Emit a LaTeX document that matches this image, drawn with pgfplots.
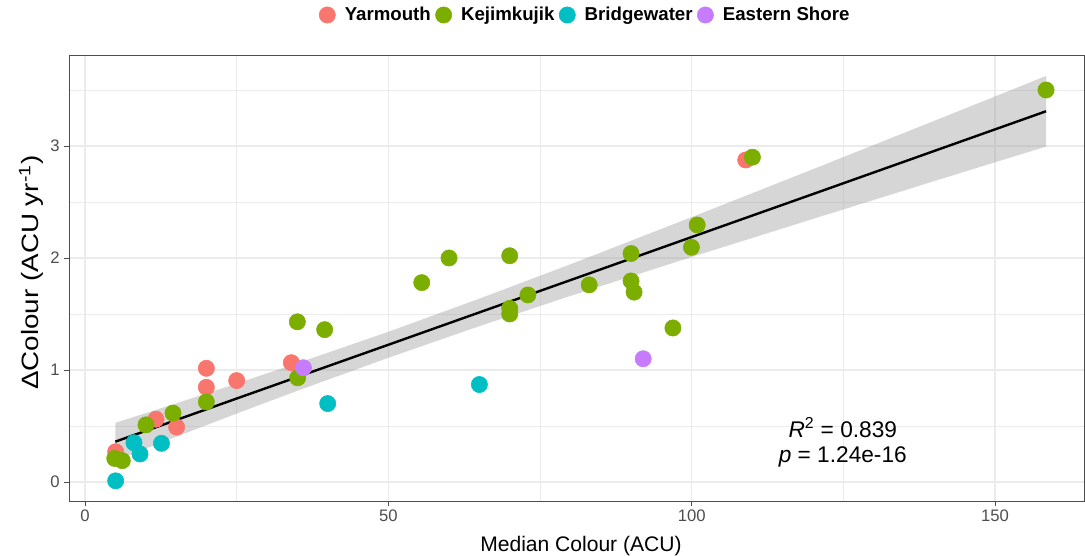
\documentclass[border=0pt]{standalone}
\usepackage{fontspec}
\setmainfont{Liberation Sans}
\usepackage{graphicx}
\usepackage{pgfplots}
\pgfplotsset{compat=1.18}
\definecolor{yar}{HTML}{F8766D}
\definecolor{kej}{HTML}{7CAE00}
\definecolor{bri}{HTML}{00BFC4}
\definecolor{eas}{HTML}{C77CFF}
\definecolor{gridc}{HTML}{EBEBEB}
\definecolor{tickc}{HTML}{4D4D4D}
\definecolor{borderc}{HTML}{4D4D4D}
\definecolor{bandc}{HTML}{999999}
\begin{document}
\begin{tikzpicture}
\begin{axis}[
  name=ax,
  scale only axis,
  width=761.25pt, height=334.5pt,
  xmin=-2.64, xmax=164.66, ymin=-0.17, ymax=3.8125,
  xtick={0,50,100,150}, ytick={0,1,2,3},
  minor xtick={25,75,125}, minor ytick={0.5,1.5,2.5,3.5},
  grid=both,
  major grid style={color=gridc, line width=1.1pt},
  minor grid style={color=gridc, line width=0.6pt},
  axis line style={color=borderc, line width=0.65pt},
  tick align=outside, tick pos=left,
  major tick length=3.4pt, minor tick length=0pt,
  tick style={color=borderc, line width=0.65pt},
  /pgf/number format/assume math mode=true,
  ticklabel style={font=\fontsize{12.5}{14}\selectfont, text=tickc},
  xlabel={Median Colour (ACU)},
  ylabel={\scalebox{1.32}[1.12]{ΔColour (ACU yr\textsuperscript{-1})}},
  label style={font=\fontsize{15.8}{18}\selectfont},
  xlabel style={at={(axis description cs:0.5044,-0.1009)}, anchor=center},
  ylabel style={at={(axis description cs:-0.0374,0.512)}, anchor=center},
  legend columns=4,
  legend cell align=left,
  legend style={at={(axis description cs:0.509,1.0897)}, anchor=center,
    draw=none, fill=none, font=\bfseries\fontsize{14}{16}\selectfont,
    /tikz/every even column/.append style={column sep=1.5pt},
    /tikz/every odd column/.append style={column sep=5pt}},
]
\addplot[only marks, mark=*, mark size=6.1pt, color=yar, mark options={draw=yar, fill=yar}] coordinates {
(5.05,0.27) (11.7,0.56) (15.1,0.49) (20.0,1.015) (20.0,0.845) (25.0,0.905) (34.0,1.065) (108.9,2.875)
};
\addlegendentry{Yarmouth}
\addplot[only marks, mark=*, mark size=6.1pt, color=kej, mark options={draw=kej, fill=kej}] coordinates {
(4.9,0.21) (6.15,0.19) (10.05,0.51) (14.5,0.615) (20.0,0.715) (35.0,1.43) (35.05,0.93) (39.5,1.36)
(55.5,1.78) (60.0,2.0) (70.0,2.02) (70.0,1.55) (70.0,1.50) (73.0,1.67) (83.1,1.76) (90.0,2.04)
(90.0,1.795) (90.5,1.695) (96.9,1.375) (99.95,2.095) (100.9,2.295) (110.0,2.90) (158.4,3.50)
};
\addlegendentry{Kejimkujik}
\addplot[only marks, mark=*, mark size=6.1pt, color=bri, mark options={draw=bri, fill=bri}] coordinates {
(5.05,0.01) (8.07,0.35) (9.06,0.25) (12.6,0.345) (40.0,0.70) (65.0,0.87)
};
\addlegendentry{Bridgewater}
\addplot[only marks, mark=*, mark size=6.1pt, color=eas, mark options={draw=eas, fill=eas}] coordinates {
(36.0,1.02) (92.0,1.10)
};
\addlegendentry{Eastern Shore}
\addplot[draw=none, fill=bandc, fill opacity=0.4, forget plot] coordinates {
(5,0.528) (15,0.701) (25,0.879) (35,1.060) (50,1.341) (65,1.637) (80,1.943) (100,2.365) (120,2.793) (140,3.225) (158.4,3.625)
(158.4,2.995) (140,2.687) (120,2.349) (100,2.009) (80,1.661) (65,1.391) (50,1.109) (35,0.814) (25,0.611) (15,0.403) (5,0.192)
} -- cycle;
\addplot[black, line width=1.8pt, forget plot] coordinates {
(5,0.360) (15,0.552) (25,0.745) (35,0.937) (50,1.225) (65,1.514) (80,1.802) (100,2.187) (120,2.571) (140,2.956) (158.4,3.310)
};
\node[align=center, font=\fontsize{17}{18.75}\selectfont] at (axis cs:124.9,0.353)
  {\textit{R}\textsuperscript{2} = 0.839\\\textit{p} = 1.24e-16};
\end{axis}
\pgfresetboundingbox
\useasboundingbox ([xshift=-51.75pt,yshift=-41.25pt]ax.south west) rectangle ([xshift=0.75pt,yshift=41.25pt]ax.north east);
\end{tikzpicture}
\end{document}
